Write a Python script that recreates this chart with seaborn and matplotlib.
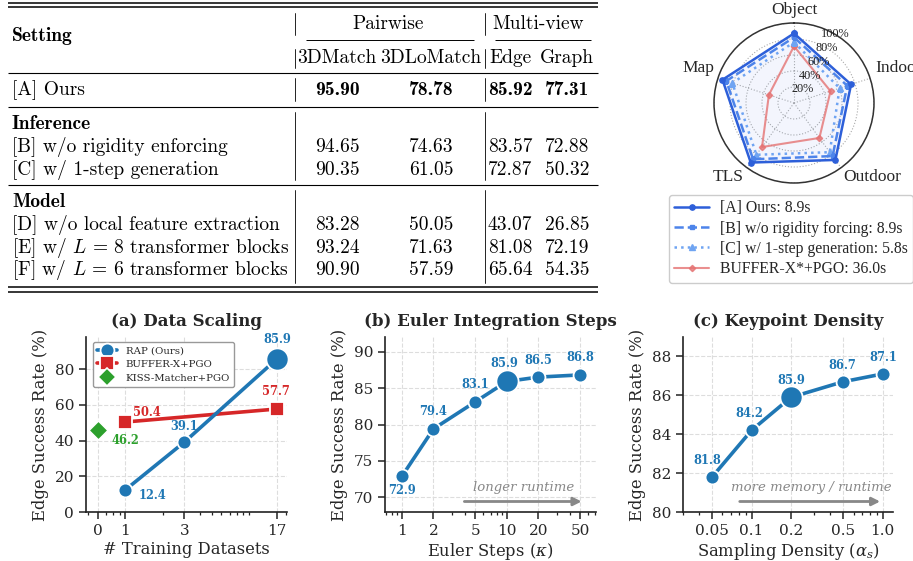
import numpy as np
import pandas as pd
import matplotlib
matplotlib.use("Agg")
import matplotlib.pyplot as plt
import matplotlib.ticker as mticker
from matplotlib.lines import Line2D
import seaborn as sns

# ---------------- data ----------------
table_cols = ["3DMatch", "3DLoMatch", "Edge", "Graph"]
table_groups = ["Pairwise", "Multi-view"]
ours_label = "[A] Ours"
ours_vals = ["95.90", "78.78", "85.92", "77.31"]
inference_rows = ["[B] w/o rigidity enforcing", "[C] w/ 1-step generation"]
inference_vals = [["94.65", "74.63", "83.57", "72.88"],
                  ["90.35", "61.05", "72.87", "50.32"]]
model_rows = ["[D] w/o local feature extraction",
              r"[E] w/ $L\,=\,8$ transformer blocks",
              r"[F] w/ $L\,=\,6$ transformer blocks"]
model_vals = [["83.28", "50.05", "43.07", "26.85"],
              ["93.24", "71.63", "81.08", "72.19"],
              ["90.90", "57.59", "65.64", "54.35"]]

radar_axes = ["Object", "Indoor", "Outdoor", "TLS", "Map"]
radar_ours = [87, 75, 88, 92, 94]
radar_norigid = [82, 70, 82, 87, 89]
radar_onestep = [76, 60, 76, 80, 81]
radar_buffer = [71, 48, 54, 68, 33]
radar_names = ["[A] Ours: 8.9s", "[B] w/o rigidity forcing: 8.9s",
               "[C] w/ 1-step generation: 5.8s", "BUFFER-X*+PGO: 36.0s"]
radar_ticks = [20, 40, 60, 80, 100]

scal_x = [1, 3, 17]
scal_rap = [12.4, 39.1, 85.9]
buf_x = [1, 17]
buf_y = [50.4, 57.7]
kiss_x = [0]
kiss_y = [46.2]
scal_ticks = [0, 1, 3, 17]
scal_highlight = 17

euler_x = [1, 2, 5, 10, 20, 50]
euler_y = [72.9, 79.4, 83.1, 85.9, 86.5, 86.8]
euler_highlight = 10

dens_x = [0.05, 0.1, 0.2, 0.5, 1.0]
dens_y = [81.8, 84.2, 85.9, 86.7, 87.1]
dens_ticklabels = ["0.05", "0.1", "0.2", "0.5", "1.0"]
dens_highlight = 0.2

# ---------------- style ----------------
sns.set_style("ticks")
plt.rcParams["font.family"] = ["DejaVu Serif"]
plt.rcParams["mathtext.fontset"] = "dejavuserif"

BLUE, RED, GREEN = "#1f77b4", "#d62728", "#2ca02c"
W, H = 913, 561
fig = plt.figure(figsize=(W / 100, H / 100), dpi=100)

# ---------------- table ----------------
tax = fig.add_axes([0, 0, 1, 1])
tax.set_xlim(0, W)
tax.set_ylim(H, 0)
tax.axis("off")
FS = 14
col_x = [337, 431, 510, 567]
left_x = 12


def ttext(x, y, s, bold=False, ha="left"):
    tax.text(x, y + 6, s, family="cmb10" if bold else "cmr10", fontsize=FS,
             ha=ha, va="baseline", math_fontfamily="cm", color="black")


def hrule(y, lw=0.8, x0=8, x1=598):
    tax.plot([x0, x1], [y, y], color="black", lw=lw, solid_capstyle="butt")


def vrule(y0, y1):
    for xv in (295, 485):
        tax.plot([xv, xv], [y0, y1], color="black", lw=0.6)


hrule(2.5, 1.1)
hrule(6.5, 1.1)
ttext(left_x, 35, "Setting", bold=True)
ttext(388, 23, table_groups[0], ha="center")
ttext(538, 23, table_groups[1], ha="center")
hrule(39.5, 0.7, 306, 474)
hrule(39.5, 0.7, 495, 591)
for cx, name in zip(col_x, table_cols):
    ttext(cx, 57, name, ha="center")
vrule(13, 35)
vrule(49, 68)
hrule(73, 0.8)
ttext(left_x, 89, ours_label)
for cx, v in zip(col_x, ours_vals):
    ttext(cx, 89, v, bold=True, ha="center")
vrule(78, 101)
hrule(106.5, 0.8)
ttext(left_x, 123, "Inference", bold=True)
for i, (lab, vals) in enumerate(zip(inference_rows, inference_vals)):
    y = 146 + 22.5 * i
    ttext(left_x, y, lab)
    for cx, v in zip(col_x, vals):
        ttext(cx, y, v, ha="center")
vrule(112, 180)
hrule(184.5, 0.8)
ttext(left_x, 201, "Model", bold=True)
for i, (lab, vals) in enumerate(zip(model_rows, model_vals)):
    y = 224 + 22.7 * i
    ttext(left_x, y, lab)
    for cx, v in zip(col_x, vals):
        ttext(cx, y, v, ha="center")
vrule(190, 283)
hrule(287, 1.1)
hrule(291.5, 1.1)

# ---------------- radar ----------------
rax = fig.add_axes([714 / W, 1 - 183 / H, 160 / W, 160 / H], projection="polar")
ang = np.linspace(0, 2 * np.pi, len(radar_axes), endpoint=False)
angc = np.append(ang, ang[0])


def closed(v):
    return np.append(np.asarray(v, float), v[0])


rax.set_theta_zero_location("N")
rax.set_theta_direction(-1)
rax.fill(angc, closed(radar_ours), color="#5b7fe8", alpha=0.07, zorder=1)
h_buf, = rax.plot(angc, closed(radar_buffer), color="#e57373", lw=1.5,
                  marker="D", ms=3.2, alpha=0.8, zorder=2)
h_one, = rax.plot(angc, closed(radar_onestep), color="#6fa4f2", lw=1.8, ls=":",
                  marker="^", ms=3.8, zorder=3)
h_nor, = rax.plot(angc, closed(radar_norigid), color="#4d84ea", lw=1.8, ls="--",
                  marker="s", ms=3.2, zorder=4)
h_our, = rax.plot(angc, closed(radar_ours), color="#2d5fd9", lw=1.8,
                  marker="o", ms=3.8, zorder=5)
rax.set_ylim(0, 100)
rax.set_yticks(radar_ticks)
rax.set_yticklabels([])
for t in radar_ticks:
    rax.text(np.deg2rad(31), t, f"{t}%", ha="center", va="center", fontsize=8.8,
             family="Liberation Serif", color="#222222", zorder=6)
rax.set_xticks(ang)
rax.set_xticklabels([])
label_offsets = [(0, 13, "center"), (5, 10, "left"), (31, -9, "center"),
                 (-19, -9, "center"), (-20, 10, "center")]
for a, name, (dx, dy, ha) in zip(ang, radar_axes, label_offsets):
    rax.annotate(name, (a, 100), xytext=(dx, dy), textcoords="offset pixels",
                 ha=ha, va="center", fontsize=12.5, family="Liberation Serif",
                 annotation_clip=False)
rax.grid(True, color="#aaaaaa", ls=":", lw=0.8)
rax.spines["polar"].set_color("#333333")
rax.spines["polar"].set_linewidth(1.1)
rax.set_facecolor("white")

fig.legend([h_our, h_nor, h_one, h_buf], radar_names, loc="upper left",
           bbox_to_anchor=(669 / W, 1 - 195 / H), borderaxespad=0,
           prop={"family": "Liberation Serif", "size": 11.3},
           handlelength=2.2, labelspacing=0.27, borderpad=0.35,
           handletextpad=0.7, edgecolor="#cccccc", framealpha=1)

# ---------------- line panels ----------------
AX_B, AX_H = 1 - 512 / H, 175 / H


def style_ax(ax):
    sns.despine(ax=ax)
    ax.grid(True, which="major", ls="--", color="#dddddd", lw=0.8)
    ax.set_axisbelow(True)
    ax.tick_params(which="major", length=5, width=1.1, labelsize=11,
                   color="#222222")
    ax.tick_params(which="minor", length=2.5, width=0.9, color="#222222")
    for s in ("left", "bottom"):
        ax.spines[s].set_linewidth(1.2)
        ax.spines[s].set_color("#222222")
    ax.set_ylabel("Edge Success Rate (%)", fontsize=11.8)


def label_pts(ax, xs, ys, color, offsets):
    for x, y, (dx, dy) in zip(xs, ys, offsets):
        ax.annotate(f"{y:.1f}", (x, y), xytext=(dx, dy), textcoords="offset pixels",
                    ha="center", va="center", fontsize=8.3, fontweight="bold",
                    color=color)


LW, MS, MS_BIG = 2.6, 10, 16

# (a) data scaling
ax = fig.add_axes([86 / W, AX_B, 201 / W, AX_H])
ax.set_xscale("log")
zero_pos = 0.6  # where "0 datasets" sits on the log axis


def pos(x):
    x = np.asarray(x, float)
    return np.where(x == 0, zero_pos, x)


df_rap = pd.DataFrame({"x": pos(scal_x), "y": scal_rap})
df_buf = pd.DataFrame({"x": pos(buf_x), "y": buf_y})
df_kiss = pd.DataFrame({"x": pos(kiss_x), "y": kiss_y})
sns.lineplot(data=df_rap, x="x", y="y", ax=ax, color=BLUE, lw=LW, marker="o",
             ms=MS, mec="white", mew=1.3, zorder=4)
sns.lineplot(data=df_buf, x="x", y="y", ax=ax, color=RED, lw=LW, marker="s",
             ms=9.5, mec="white", mew=1.3, zorder=3)
sns.scatterplot(data=df_kiss, x="x", y="y", ax=ax, color=GREEN, marker="D",
                s=95, edgecolor="white", linewidth=1.2, zorder=3)
hl = df_rap[np.isclose(scal_x, scal_highlight)]
sns.scatterplot(data=hl, x="x", y="y", ax=ax, color=BLUE, s=MS_BIG ** 2,
                edgecolor="white", linewidth=1.3, zorder=5)
ax.set_xlim(0.48, 20.4)
ax.set_ylim(0, 98)
ax.set_yticks([0, 20, 40, 60, 80])
ax.xaxis.set_major_locator(mticker.FixedLocator(pos(scal_ticks)))
ax.xaxis.set_major_formatter(mticker.FixedFormatter([str(t) for t in scal_ticks]))
ax.xaxis.set_minor_locator(mticker.FixedLocator([0.5, 0.7, 0.8, 0.9, 2, 4, 5, 6, 7, 8, 9, 10, 20]))
ax.xaxis.set_minor_formatter(mticker.NullFormatter())
style_ax(ax)
ax.set_xlabel("# Training Datasets", fontsize=11.8, labelpad=2)
ax.set_title("(a) Data Scaling", fontsize=12, fontweight="bold", pad=8)
label_pts(ax, df_rap.x, scal_rap, BLUE, [(27, -6), (0, 16), (0, 19)])
label_pts(ax, df_buf.x, buf_y, RED, [(22, 10), (-1, 17)])
label_pts(ax, df_kiss.x, kiss_y, GREEN, [(27, -11)])
leg_handles = [
    Line2D([], [], color=BLUE, lw=LW, marker="o", ms=MS, mec="white", mew=1.3),
    Line2D([], [], color=RED, lw=LW, marker="s", ms=9.5, mec="white", mew=1.3),
    Line2D([], [], color=GREEN, lw=0, marker="D", ms=9.5, mec="white", mew=1.2),
]
ax.legend(leg_handles, ["RAP (Ours)", "BUFFER-X+PGO", "KISS-Matcher+PGO"],
          loc="upper left", fontsize=7.3, handlelength=2.0, borderpad=0.4,
          labelspacing=0.45, edgecolor="#999999", framealpha=1,
          bbox_to_anchor=(0.01, 1.0))


def arrow_note(ax, x0, x1, tx, text):
    ax.annotate("", xy=(x1, 0.06), xytext=(x0, 0.06), xycoords="axes fraction",
                arrowprops=dict(arrowstyle="-|>", color="#888888", lw=2,
                                mutation_scale=12))
    ax.text(tx, 0.14, text, transform=ax.transAxes, ha="center", va="center",
            fontsize=9.5, style="italic", color="#888888")


# (b) Euler steps
ax = fig.add_axes([385 / W, AX_B, 211 / W, AX_H])
ax.set_xscale("log")
df_e = pd.DataFrame({"x": euler_x, "y": euler_y})
sns.lineplot(data=df_e, x="x", y="y", ax=ax, color=BLUE, lw=LW, marker="o",
             ms=MS, mec="white", mew=1.3, zorder=4)
sns.scatterplot(data=df_e[df_e.x == euler_highlight], x="x", y="y", ax=ax,
                color=BLUE, s=MS_BIG ** 2, edgecolor="white", linewidth=1.3,
                zorder=5)
ax.set_xlim(0.69, 71)
ax.set_ylim(68, 92)
ax.set_yticks([70, 75, 80, 85, 90])
ax.xaxis.set_major_locator(mticker.FixedLocator(euler_x))
ax.xaxis.set_major_formatter(mticker.FixedFormatter([str(v) for v in euler_x]))
ax.xaxis.set_minor_locator(mticker.LogLocator(base=10, subs=np.arange(2, 10), numticks=20))
ax.xaxis.set_minor_formatter(mticker.NullFormatter())
style_ax(ax)
ax.set_xlabel(r"Euler Steps ($\kappa$)", fontsize=11.8, labelpad=2)
ax.set_title("(b) Euler Integration Steps", fontsize=12, fontweight="bold", pad=8)
label_pts(ax, euler_x, euler_y, BLUE,
          [(0, -14), (0, 17), (0, 17), (-2, 18), (0, 17), (0, 17)])
arrow_note(ax, 0.363, 0.945, 0.656, "longer runtime")

# (c) keypoint density
ax = fig.add_axes([683 / W, AX_B, 210 / W, AX_H])
ax.set_xscale("log")
df_d = pd.DataFrame({"x": dens_x, "y": dens_y})
sns.lineplot(data=df_d, x="x", y="y", ax=ax, color=BLUE, lw=LW, marker="o",
             ms=MS, mec="white", mew=1.3, zorder=4)
sns.scatterplot(data=df_d[np.isclose(df_d.x, dens_highlight)], x="x", y="y", ax=ax,
                color=BLUE, s=MS_BIG ** 2, edgecolor="white", linewidth=1.3,
                zorder=5)
ax.set_xlim(0.03, 1.2)
ax.set_ylim(80, 89)
ax.set_yticks([80, 82, 84, 86, 88])
ax.xaxis.set_major_locator(mticker.FixedLocator(dens_x))
ax.xaxis.set_major_formatter(mticker.FixedFormatter(dens_ticklabels))
ax.xaxis.set_minor_locator(mticker.LogLocator(base=10, subs=np.arange(2, 10), numticks=20))
ax.xaxis.set_minor_formatter(mticker.NullFormatter())
style_ax(ax)
ax.set_xlabel(r"Sampling Density ($\alpha_s$)", fontsize=11.8, labelpad=2)
ax.set_title("(c) Keypoint Density", fontsize=12, fontweight="bold", pad=8)
label_pts(ax, dens_x, dens_y, BLUE,
          [(-5, 17), (-2, 17), (0, 17), (-1, 16), (1, 16)])
arrow_note(ax, 0.257, 0.952, 0.611, "more memory / runtime")

fig.savefig("out.png", dpi=100)
